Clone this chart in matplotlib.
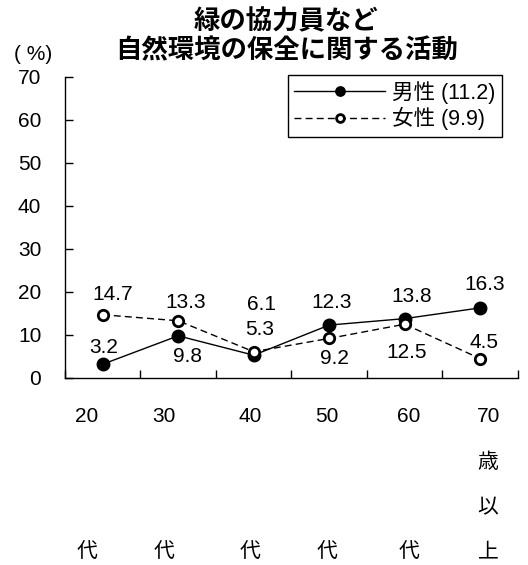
import matplotlib.pyplot as plt
from matplotlib.transforms import ScaledTranslation

plt.rcParams['font.family'] = ['Liberation Sans', 'Noto Sans CJK JP']

# data
ages = ["20\n\n\n代", "30\n\n\n代", "40\n\n\n代", "50\n\n\n代", "60\n\n\n代", "70\n歳\n以\n上"]
male = [3.2, 9.8, 5.3, 12.3, 13.8, 16.3]
female = [14.7, 13.3, 6.1, 9.2, 12.5, 4.5]
male_label = "男性 (11.2)"
female_label = "女性 (9.9)"
title = "緑の協力員など\n自然環境の保全に関する活動"

# label offsets in pixels (dx, dy)
male_off = [(1, 17), (9, -21), (6, 26), (2, 23), (7, 22), (4, 23)]
female_off = [(10, 20), (7, 18), (8, 47), (5, -20), (2, -28), (4, 16)]
tick_dx = [-16, -14, -4, -2, 4, 8]

fig = plt.figure(figsize=(5.28, 5.65), dpi=100)
ax = fig.add_axes([0.123, 0.331, 0.858, 0.533])

x = [i + 0.5 for i in range(len(ages))]
ax.plot(x, male, color='black', lw=1, marker='o', ms=9, mfc='black', mec='black',
        label=male_label)
ax.plot(x, female, color='black', lw=1, ls=(0, (5, 3)), marker='o', ms=7.5, mfc='white',
        mec='black', mew=2, label=female_label)

for xi, v, off in zip(x, male, male_off):
    ax.annotate(f"{v:.1f}", (xi, v), xytext=off, textcoords='offset pixels',
                ha='center', va='center', fontsize=15)
for xi, v, off in zip(x, female, female_off):
    ax.annotate(f"{v:.1f}", (xi, v), xytext=off, textcoords='offset pixels',
                ha='center', va='center', fontsize=15)

ax.set_xlim(0, 6)
ax.set_ylim(0, 70)
ax.set_yticks(range(0, 71, 10))
ax.set_xticks(range(0, 7))
ax.set_xticklabels([])
ax.set_xticks(x, minor=True)
ax.set_xticklabels(ages, minor=True, linespacing=2.72, va='top')
ax.tick_params(axis='x', which='major', direction='in', length=6, width=1)
ax.tick_params(axis='x', which='minor', length=0, pad=21, labelsize=15)
ax.tick_params(axis='y', direction='in', length=6, width=1, pad=17, labelsize=15)
for lab, dx in zip(ax.get_xticklabels(minor=True), tick_dx):
    lab.set_transform(lab.get_transform() + ScaledTranslation(dx / 100, 0, fig.dpi_scale_trans))
for s in ['top', 'right']:
    ax.spines[s].set_visible(False)
for s in ['left', 'bottom']:
    ax.spines[s].set_linewidth(1)

leg = ax.legend(loc='upper right', bbox_to_anchor=(0.965, 1.007), borderaxespad=0,
                fontsize=15.5, handlelength=4.2, handletextpad=0.35, fancybox=False,
                edgecolor='black', framealpha=1, borderpad=0.3, labelspacing=0.15,
                markerscale=0.75)
leg.get_frame().set_linewidth(1)

fig.text(0.542, 0.936, title, ha='center', va='center', fontsize=19,
         fontweight='bold', linespacing=1.1,
         family=['Noto Sans CJK JP', 'Liberation Sans'])
fig.text(0.063, 0.903, "( %)", ha='center', va='center', fontsize=15)

fig.savefig("out.png", dpi=100)
